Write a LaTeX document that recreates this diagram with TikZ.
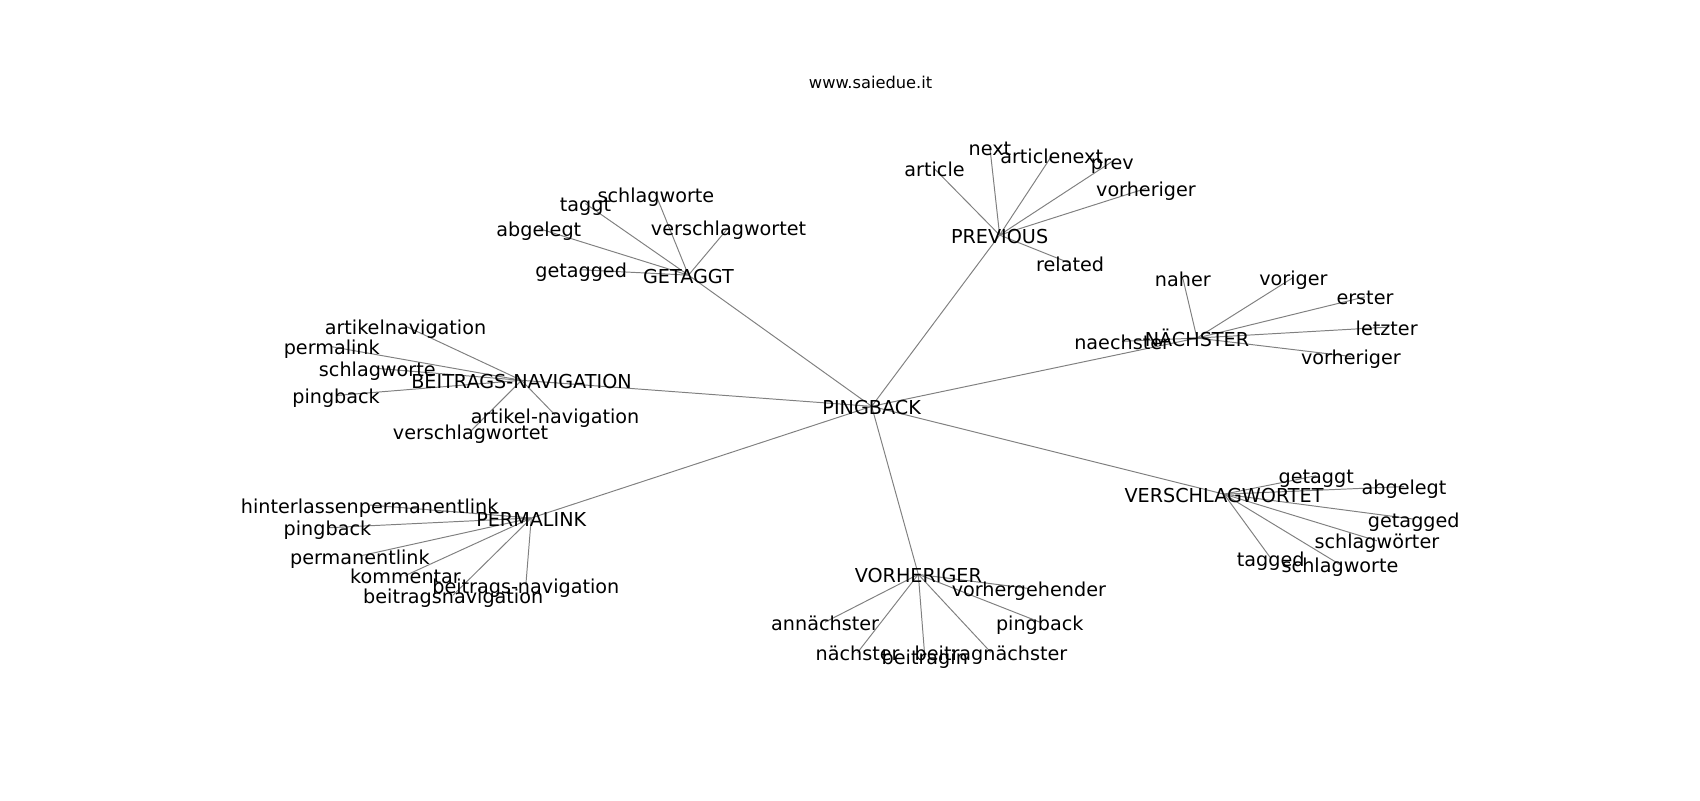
\documentclass[tikz,border=0pt]{standalone}
\usepackage{fontspec}
\setmainfont{DejaVu Sans}
\usetikzlibrary{backgrounds}
\tikzset{
  lbl/.style={inner sep=0pt, outer sep=0pt, anchor=center, text height=18.4pt, text depth=3.54pt, yshift=1.2pt, font=\fontsize{17.7}{20}\selectfont},
  ttl/.style={inner sep=0pt, anchor=center, font=\fontsize{15}{18}\selectfont},
  edge/.style={draw=gray, line width=0.9pt},
}
\begin{document}
\begin{tikzpicture}[x=1pt,y=-1pt]
\useasboundingbox (0,0) rectangle (1568,738);
\node[ttl] (title) at (803,76) {www.saiedue.it};
% hub
\node[lbl] (pb) at (804,376) {PINGBACK};
% GETAGGT
\node[lbl] (ga) at (635,255) {GETAGGT};
\node[lbl] (ga1) at (605,181) {schlagworte};
\node[lbl] (ga2) at (540,189) {taggt};
\node[lbl] (ga3) at (497,212) {abgelegt};
\node[lbl] (ga4) at (672,211) {verschlagwortet};
\node[lbl] (ga5) at (536,250) {getagged};
% PREVIOUS
\node[lbl] (pr) at (922,218) {PREVIOUS};
\node[lbl] (pr1) at (862,157) {article};
\node[lbl] (pr2) at (913,137) {next};
\node[lbl] (pr3) at (970,145) {articlenext};
\node[lbl] (pr4) at (1026,150) {prev};
\node[lbl] (pr5) at (1057,175) {vorheriger};
\node[lbl] (pr6) at (987,244) {related};
% NÄCHSTER
\node[lbl] (na) at (1104,313) {NÄCHSTER};
\node[lbl] (na1) at (1091,258) {naher};
\node[lbl] (na2) at (1193,257) {voriger};
\node[lbl] (na3) at (1259,275) {erster};
\node[lbl] (na4) at (1279,303) {letzter};
\node[lbl] (na5) at (1246,330) {vorheriger};
\node[lbl] (na6) at (1035,316) {naechster};
% BEITRAGS-NAVIGATION
\node[lbl] (bn) at (481,352) {BEITRAGS-NAVIGATION};
\node[lbl] (bn1) at (374,302) {artikelnavigation};
\node[lbl] (bn2) at (306,321) {permalink};
\node[lbl] (bn3) at (348,341) {schlagworte};
\node[lbl] (bn4) at (310,366) {pingback};
\node[lbl] (bn5) at (512,384) {artikel-navigation};
\node[lbl] (bn6) at (434,399) {verschlagwortet};
% PERMALINK
\node[lbl] (pl) at (490,479) {PERMALINK};
\node[lbl] (pl1) at (341,467) {hinterlassenpermanentlink};
\node[lbl] (pl2) at (302,488) {pingback};
\node[lbl] (pl3) at (332,514) {permanentlink};
\node[lbl] (pl4) at (374,532) {kommentar};
\node[lbl] (pl5) at (485,541) {beitrags-navigation};
\node[lbl] (pl6) at (418,550) {beitragsnavigation};
% VORHERIGER
\node[lbl] (vo) at (847,531) {VORHERIGER};
\node[lbl] (vo1) at (949,544) {vorhergehender};
\node[lbl] (vo2) at (761,575) {annächster};
\node[lbl] (vo3) at (959,575) {pingback};
\node[lbl] (vo4) at (791,603) {nächster};
\node[lbl] (vo5) at (853,607) {beitragin};
\node[lbl] (vo6) at (914,603) {beitragnächster};
% VERSCHLAGWORTET
\node[lbl] (vs) at (1129,457) {VERSCHLAGWORTET};
\node[lbl] (vs1) at (1214,440) {getaggt};
\node[lbl] (vs2) at (1295,450) {abgelegt};
\node[lbl] (vs3) at (1304,480) {getagged};
\node[lbl] (vs4) at (1270,500) {schlagwörter};
\node[lbl] (vs5) at (1172,516) {tagged};
\node[lbl] (vs6) at (1236,522) {schlagworte};
\begin{scope}[on background layer]
\foreach \h in {ga,pr,na,bn,pl,vo,vs} {\draw[edge] (pb.center) -- (\h.center);}
\foreach \c in {ga1,ga2,ga3,ga4,ga5} {\draw[edge] (ga.center) -- (\c.center);}
\foreach \h in {pr,na,bn,pl,vo,vs} {
  \foreach \i in {1,...,6} {\draw[edge] (\h.center) -- (\h\i.center);}
}
\end{scope}
\end{tikzpicture}
\end{document}
